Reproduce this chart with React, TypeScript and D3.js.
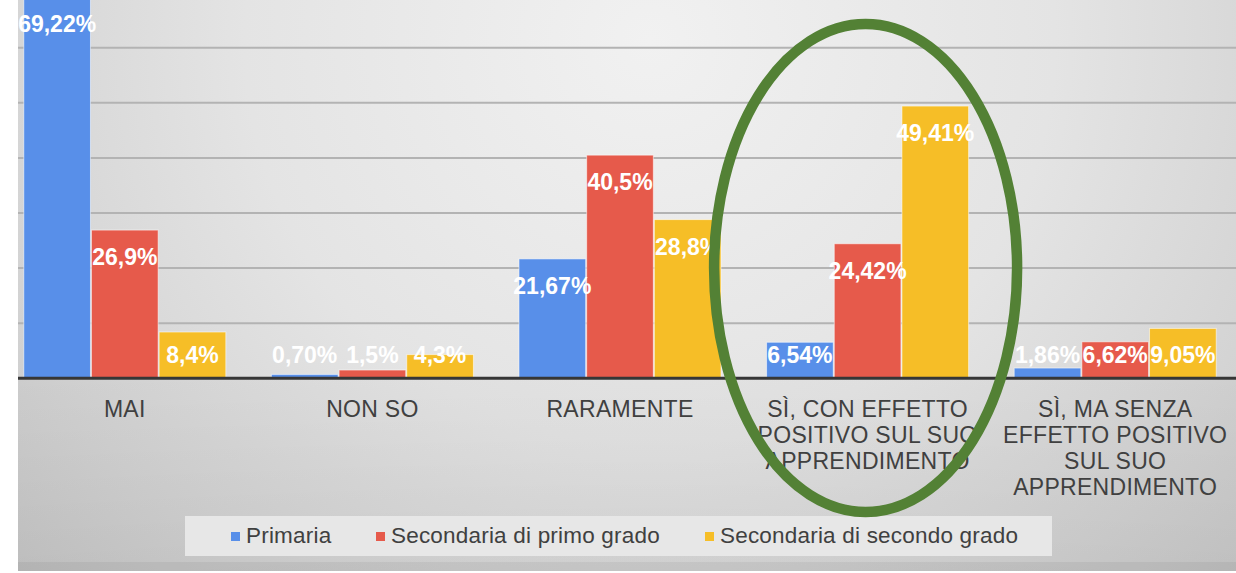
import React from "react";
import * as d3 from "d3";

const categories = ["MAI", "NON SO", "RARAMENTE", "SÌ, CON EFFETTO POSITIVO", "SÌ, MA SENZA EFFETTO POSITIVO"];
const categoryLines = [
  ["MAI"],
  ["NON SO"],
  ["RARAMENTE"],
  ["SÌ, CON EFFETTO", "POSITIVO SUL SUO", "APPRENDIMENTO"],
  ["SÌ, MA SENZA", "EFFETTO POSITIVO", "SUL SUO", "APPRENDIMENTO"],
];
const seriesNames = ["Primaria", "Secondaria di primo grado", "Secondaria di secondo grado"];
const primaria = [69.22, 0.7, 21.67, 6.54, 1.86];
const primoGrado = [26.9, 1.5, 40.5, 24.42, 6.62];
const secondoGrado = [8.4, 4.3, 28.8, 49.41, 9.05];
const primariaLabels = ["69,22%", "0,70%", "21,67%", "6,54%", "1,86%"];
const primoLabels = ["26,9%", "1,5%", "40,5%", "24,42%", "6,62%"];
const secondoLabels = ["8,4%", "4,3%", "28,8%", "49,41%", "9,05%"];
const gridTicks = [10, 20, 30, 40, 50, 60];

const colors = ["#588fe9", "#e65a4b", "#f6be27"];
const FONT = "'Liberation Sans', Arial, Helvetica, sans-serif";

export default function App() {
  const W = 1236;
  const H = 573;
  const left = 18;
  const baseY = 378.3;

  const values = [primaria, primoGrado, secondoGrado];
  const labels = [primariaLabels, primoLabels, secondoLabels];

  const x = d3.scaleBand<string>().domain(categories).range([1, 1239]).paddingInner(0.18).paddingOuter(0.09);
  const xs = d3.scaleBand<number>().domain([0, 1, 2]).range([0, x.bandwidth()]);
  const y = d3.scaleLinear().domain([0, 60]).range([baseY, 47.7]);

  const cx4 = (x(categories[3]) as number) + x.bandwidth() / 2 - 2;

  const legendX = [231, 376, 705];

  return (
    <svg
      width={W}
      height={H}
      style={{ position: "absolute", left: 0, top: 0, background: "#ffffff" }}
      fontFamily={FONT}
    >
      <defs>
        <radialGradient id="bg" gradientUnits="userSpaceOnUse" cx={650} cy={40} r={900}>
          <stop offset="0" stopColor="#f1f1f1" />
          <stop offset="0.45" stopColor="#e4e4e4" />
          <stop offset="0.75" stopColor="#d3d3d3" />
          <stop offset="1" stopColor="#c4c4c4" />
        </radialGradient>
        <linearGradient id="bottomShade" x1="0" y1="0" x2="0" y2="1">
          <stop offset="0" stopColor="#000" stopOpacity="0.02" />
          <stop offset="1" stopColor="#000" stopOpacity="0.06" />
        </linearGradient>
        <clipPath id="plotClip">
          <rect x={left} y={0} width={W - left} height={571} />
        </clipPath>
      </defs>

      <rect x={left} y={0} width={W - left} height={571} fill="url(#bg)" />
      <rect x={left} y={baseY} width={W - left} height={571 - baseY} fill="url(#bottomShade)" />
      <rect x={left} y={562} width={W - left} height={9} fill="#000" opacity={0.05} />

      <g clipPath="url(#plotClip)">
        {gridTicks.map((t) => (
          <line key={t} x1={left} x2={W} y1={y(t)} y2={y(t)} stroke="#b3b3b3" strokeWidth={2} />
        ))}

        {categories.map((c, ci) => (
          <g key={c} transform={`translate(${x(c)},0)`}>
            {values.map((arr, si) => {
              const v = arr[ci];
              const top = y(v);
              return (
                <rect
                  key={si}
                  x={(xs(si) as number) + 0.5}
                  y={top}
                  width={xs.bandwidth() - 1}
                  height={baseY - top}
                  fill={colors[si]}
                  stroke="#ffffff"
                  strokeOpacity={0.55}
                  strokeWidth={1}
                />
              );
            })}
          </g>
        ))}

        <line x1={left} x2={W} y1={baseY} y2={baseY} stroke="#363636" strokeWidth={3} />

        {categories.map((c, ci) => (
          <g key={c + "l"} transform={`translate(${x(c)},0)`}>
            {values.map((arr, si) => {
              const v = arr[ci];
              const by = Math.min(y(v) + 35, 363);
              return (
                <text
                  key={si}
                  x={(xs(si) as number) + xs.bandwidth() / 2}
                  y={by}
                  textAnchor="middle"
                  fill="#ffffff"
                  fontWeight="bold"
                  fontSize={23}
                >
                  {labels[si][ci]}
                </text>
              );
            })}
          </g>
        ))}

        {categories.map((c, ci) => (
          <text
            key={c + "a"}
            x={(x(c) as number) + x.bandwidth() / 2}
            textAnchor="middle"
            fill="#404040"
            fontSize={23}
            letterSpacing={0.3}
          >
            {categoryLines[ci].map((ln, li) => (
              <tspan key={li} x={(x(c) as number) + x.bandwidth() / 2} y={417 + li * 26}>
                {ln}
              </tspan>
            ))}
          </text>
        ))}
      </g>

      <rect x={185} y={516} width={867} height={40} fill="#e7e7e7" />
      {seriesNames.map((s, i) => (
        <g key={s}>
          <rect x={legendX[i]} y={532} width={9} height={9} fill={colors[i]} />
          <text x={legendX[i] + 15} y={542.5} fontSize={22.5} letterSpacing={0.2} fill="#404040">
            {s}
          </text>
        </g>
      ))}

      <ellipse cx={cx4} cy={268} rx={151.5} ry={244} fill="none" stroke="#538135" strokeWidth={10.5} />
    </svg>
  );
}
